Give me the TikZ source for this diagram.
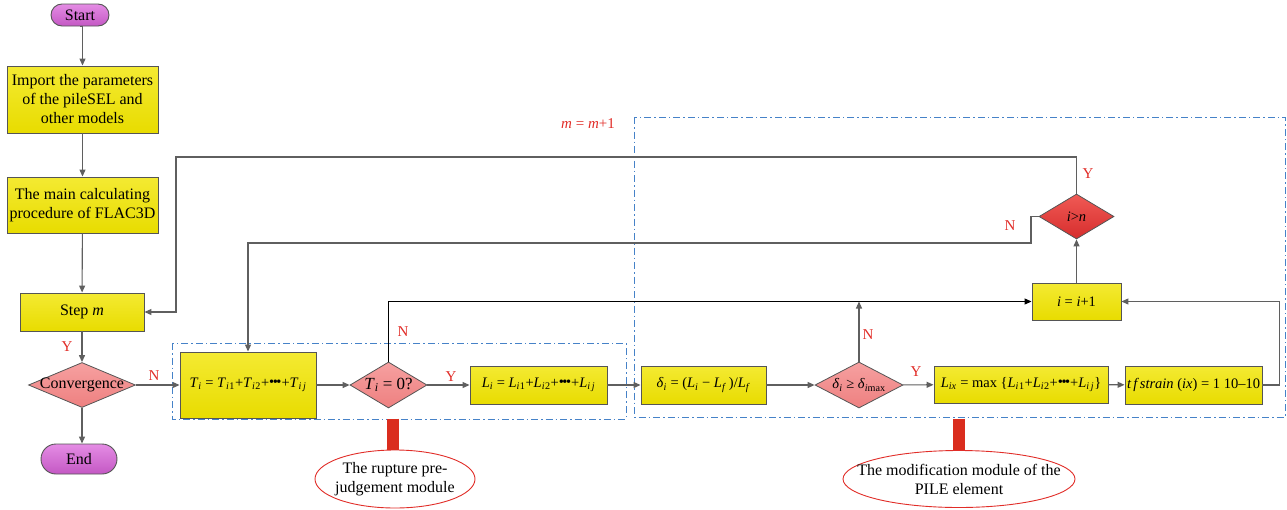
\documentclass[tikz,border=0pt]{standalone}
\usepackage{fontspec}
\setmainfont{Liberation Serif}
\usetikzlibrary{shapes.geometric,arrows.meta}
\definecolor{yelA}{RGB}{244,234,50}
\definecolor{yelB}{RGB}{232,220,0}
\definecolor{bordergray}{RGB}{85,85,85}
\definecolor{linegray}{RGB}{95,95,95}
\definecolor{pinkA}{RGB}{246,160,160}
\definecolor{pinkB}{RGB}{238,128,128}
\definecolor{redA}{RGB}{240,90,85}
\definecolor{redB}{RGB}{214,45,45}
\definecolor{violA}{RGB}{228,140,228}
\definecolor{violB}{RGB}{196,88,196}
\definecolor{dashblue}{RGB}{70,130,200}
\definecolor{labred}{RGB}{225,45,40}
\definecolor{barred}{RGB}{218,45,30}
\newcommand\vv[1]{\textit{#1}}
\newcommand\sbi[1]{\textsubscript{\textit{#1}}}
\newcommand\bdots{\raisebox{0.1ex}{•\kern-0.1em•\kern-0.1em•}}
\begin{document}
\begin{tikzpicture}[x=1pt,y=-1pt,
  tfont/.style={font=\fontsize{16}{19}\selectfont},
  ffont/.style={font=\fontsize{14.5}{17}\selectfont},
  box/.style={draw=bordergray, line width=0.9pt, top color=yelA, bottom color=yelB, inner sep=0pt, align=center},
  pill/.style={draw=bordergray, line width=0.9pt, top color=violA, bottom color=violB, rounded corners=11pt, inner sep=0pt, tfont},
  pdiam/.style={diamond, draw=bordergray, line width=0.8pt, top color=pinkA, bottom color=pinkB, inner sep=0pt},
  rdiam/.style={diamond, draw=bordergray, line width=0.8pt, top color=redA, bottom color=redB, inner sep=0pt},
  conn/.style={draw=linegray, line width=1.1pt, -{Triangle[length=7pt,width=6pt]}},
  lab/.style={text=labred, font=\fontsize{15}{17}\selectfont, inner sep=0pt},
  dbox/.style={draw=dashblue, line width=1pt, dash pattern=on 7pt off 3pt on 1.5pt off 3pt},
  oval/.style={ellipse, draw=labred, line width=0.9pt, fill=white, inner sep=0pt},
  bar/.style={draw=barred, line width=12pt}
]
\useasboundingbox (0,0) rectangle (1287,509);

% dashed module frames
\draw[dbox] (172,343) rectangle (626,419);
\draw[dbox] (634,117) rectangle (1285,417);

% left column
\node[pill, minimum width=58, minimum height=22] (start) at (80,15) {Start};
\node[box, tfont, minimum width=151, minimum height=67] (import) at (82.5,99.5) {Import the parameters\\of the pileSEL and\\other models};
\node[box, tfont, minimum width=151, minimum height=56] (main) at (82.5,205) {The main calculating\\procedure of FLAC3D};
\node[box, tfont, minimum width=124, minimum height=38] (step) at (82,312) {Step \vv{m}};
\node[pdiam, minimum width=107, minimum height=45, label={[tfont]center:Convergence}] (conv) at (82,385) {};
\node[pill, minimum width=76, minimum height=30, rounded corners=15pt] (end) at (79,459) {End};

% main row
\node[box, ffont, minimum width=136, minimum height=66] (Ti) at (248,385) {\vv{T}\sbi{i} = \vv{T}\sbi{i}\textsubscript{1}+\vv{T}\sbi{i}\textsubscript{2}+\bdots+\vv{T}\sbi{i\,j}};
\node[pdiam, minimum width=77, minimum height=46, label={[font=\fontsize{17}{19}\selectfont]center:{\vv{T}\sbi{i} = 0?}}] (tz) at (388.5,385) {};
\node[box, ffont, minimum width=137, minimum height=38] (Li) at (538.5,385) {\vv{L}\sbi{i} = \vv{L}\sbi{i}\textsubscript{1}+\vv{L}\sbi{i}\textsubscript{2}+\bdots+\vv{L}\sbi{i\,j}};
\node[box, ffont, minimum width=125, minimum height=38] (del) at (703.5,385) {\vv{δ}\sbi{i} = (\vv{L}\sbi{i} − \vv{L}\sbi{f}\,)/\vv{L}\sbi{f}};
\node[pdiam, minimum width=88, minimum height=46, label={[ffont]center:{\vv{δ}\sbi{i} ≥ \vv{δ}\textsubscript{\vv{i}max}}}] (dd) at (859,385) {};
\node[box, ffont, minimum width=174, minimum height=37] (Lix) at (1021,384.5) {\vv{L}\sbi{ix} = max \{\vv{L}\sbi{i}\textsubscript{1}+\vv{L}\sbi{i}\textsubscript{2}+\bdots+\vv{L}\sbi{i\,j}\}};
\node[box, ffont, minimum width=137, minimum height=38] (tf) at (1193.5,385) {\vv{t\,f\,strain} (\vv{ix}) = 1 10–10};
\node[box, ffont, minimum width=89, minimum height=37] (inc) at (1076.5,301.5) {\vv{i} = \vv{i}+1};
\node[rdiam, minimum width=75, minimum height=45, label={[ffont]center:{\vv{i}>\vv{n}}}] (ig) at (1076.5,216.5) {};

% module callouts
\node[oval, minimum width=160, minimum height=58, label={[tfont, align=center]center:{The rupture pre-\\judgement module}}] (ell1) at (395,479) {};
\node[oval, minimum width=232, minimum height=57, label={[tfont, align=center]center:{The modification module of the\\PILE element}}] (ell2) at (959,479) {};
\coordinate (b1) at (393,418.5);
\coordinate (b2) at (958.5,418.5);
\draw[bar] (b1) -- (b1 |- ell1.north);
\draw[bar] (b2) -- (b2 |- ell2.north);

% connectors
\draw[conn] (start.south) -- (start.south -| import.north) -- (import.north);
\draw[conn] (import) -- (main);
\draw[conn] (main) -- (step);
\draw[conn] (step) -- (conv);
\draw[conn] (conv.south) -- (conv.south |- end.north);
\draw[conn] (conv) -- (Ti);
\draw[conn] (Ti) -- (tz);
\draw[conn] (tz) -- (Li);
\draw[conn] (Li) -- (del);
\draw[conn] (del) -- (dd);
\draw[conn] (dd) -- (Lix);
\draw[conn] (Lix) -- (tf);
\draw[conn] (tf.east) -- ++(17,0) |- (inc.east);
\draw[conn] (inc) -- (ig);
\coordinate (c1) at (176,157);
\draw[conn] (ig.north) |- (c1) |- (step.east);
\coordinate (c2) at (1031,243);
\draw[conn] (ig.west) -| (c2) -| (Ti.north);
\draw[conn, draw=black] (tz.north) |- (inc.west);
\draw[conn] (dd.north) -- (dd.north |- inc.west);

% labels
\node[lab] (ly1) at (67,347) {Y};
\node[lab] (ln1) at (154,376) {N};
\node[lab] (ln2) at (403,332) {N};
\node[lab] (ly2) at (451,377) {Y};
\node[lab] (ln3) at (868,335) {N};
\node[lab] (ly3) at (916,372) {Y};
\node[lab] (ly4) at (1088,174) {Y};
\node[lab] (ln4) at (1010,226) {N};
\node[lab] (mm) at (588,124) {\vv{m} = \vv{m}+1};
\end{tikzpicture}
\end{document}
